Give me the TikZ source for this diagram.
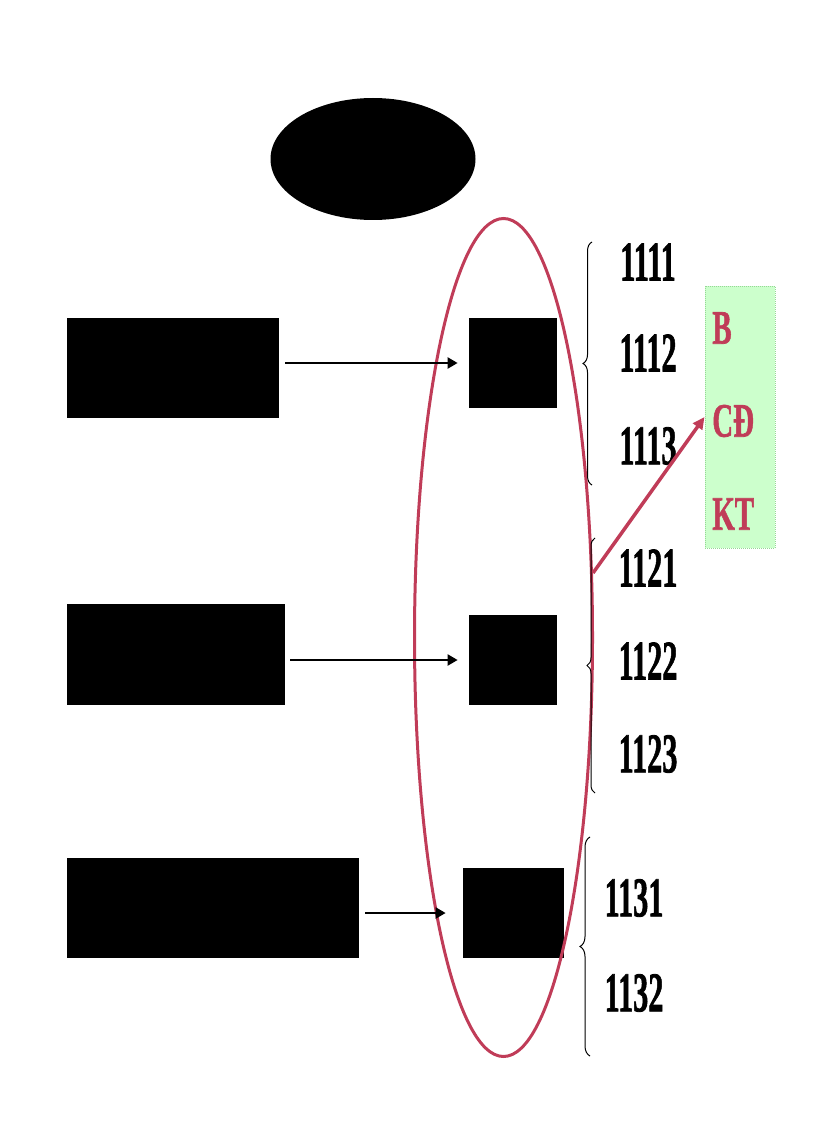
\documentclass[tikz,border=0pt]{standalone}
\usepackage{fontspec}
\setmainfont{Liberation Serif}[BoldFont={Liberation Serif Bold}]
\newfontfamily\dam{Liberation Serif Bold}[FakeBold=1.5]
\usepackage{graphicx}
\usetikzlibrary{shapes.geometric,decorations.pathreplacing,arrows.meta}
\definecolor{dohong}{RGB}{192,60,88}
\definecolor{xanhnhat}{RGB}{204,255,204}
\definecolor{vienxanh}{RGB}{150,215,150}
\newcommand{\hepchu}[2]{\scalebox{#1}[1]{#2}}
\tikzset{every picture/.style={line width=0.75pt}}
\tikzset{
  hopden/.style={fill=black, draw=none, inner sep=0pt},
  somuc/.style={font=\dam\fontsize{56}{56}\selectfont, inner sep=0pt},
  chudo/.style={font=\dam\fontsize{48}{48}\selectfont, text=dohong, inner sep=0pt, anchor=west},
  muiten/.style={line width=2.2pt, -{Triangle[length=10pt,width=11pt]}},
  ngoac/.style={decorate, decoration={brace, amplitude=#1}, line width=1pt}
}

\begin{document}
\begin{tikzpicture}[x=1pt,y=1pt,yscale=-1,xscale=1]
\useasboundingbox (0,0) rectangle (816,1123);

%Shape: Ellipse
\node [ellipse, fill=black, minimum width=205, minimum height=122] (dau) at (373,159) {};

%Shape: Rectangle (left)
\node [hopden, minimum width=212, minimum height=100] (tk1) at (173,368) {};
\node [hopden, minimum width=218, minimum height=101] (tk2) at (176,654.5) {};
\node [hopden, minimum width=292, minimum height=100] (tk3) at (213,908) {};
%Shape: Rectangle (right)
\node [hopden, minimum width=88, minimum height=90] (cap1) at (513,363) {};
\node [hopden, minimum width=88, minimum height=90] (cap2) at (513,660) {};
\node [hopden, minimum width=101, minimum height=90] (cap3) at (513.5,913) {};

%Shape: Ellipse (red)
\node [ellipse, draw=dohong, line width=3pt, minimum width=178, minimum height=838, inner sep=0pt] (vong) at (503.5,637.5) {};

%Straight Lines
\draw [muiten, shorten <=6pt, shorten >=11pt] (tk1.east |- cap1.west) -- (cap1.west);
\draw [muiten, shorten <=5pt, shorten >=11pt] (tk2.east |- cap2.west) -- (cap2.west);
\draw [muiten, shorten <=6pt, shorten >=17pt] (tk3.east |- cap3.west) -- (cap3.west);

%Braces
\draw [ngoac=9pt] (592,485) -- (592,242);
\draw [ngoac=8pt] (595,793) -- (595,538);
\draw [ngoac=10pt] (590,1056) -- (590,837);

% Text Node
\node [somuc] (s1111) at (648,262) {\hepchu{0.54}{1111}};
\node [somuc] (s1112) at (648,353) {\hepchu{0.54}{1112}};
\node [somuc] (s1113) at (648,446) {\hepchu{0.54}{1113}};
\node [somuc] (s1121) at (648,568) {\hepchu{0.54}{1121}};
\node [somuc] (s1122) at (648,661) {\hepchu{0.54}{1122}};
\node [somuc] (s1123) at (648,754) {\hepchu{0.54}{1123}};
\node [somuc] (s1131) at (634,898) {\hepchu{0.54}{1131}};
\node [somuc] (s1132) at (634,993) {\hepchu{0.54}{1132}};

%Shape: Rectangle (green)
\node [fill=xanhnhat, draw=vienxanh, densely dotted, line width=1pt, minimum width=70, minimum height=262] (bk) at (740,417) {};
\node [chudo] (bB) at (712,328) {\hepchu{0.6}{B}};
\node [chudo] (bCD) at (712,421) {\hepchu{0.6}{CĐ}};
\node [chudo] (bKT) at (712,514) {\hepchu{0.6}{KT}};

%Straight Lines (red)
\coordinate (goc) at (593,573);
\draw [dohong, line width=3.5pt, -{Triangle[length=12pt,width=11pt]}] (goc) -- (bk.west);

\end{tikzpicture}
\end{document}
